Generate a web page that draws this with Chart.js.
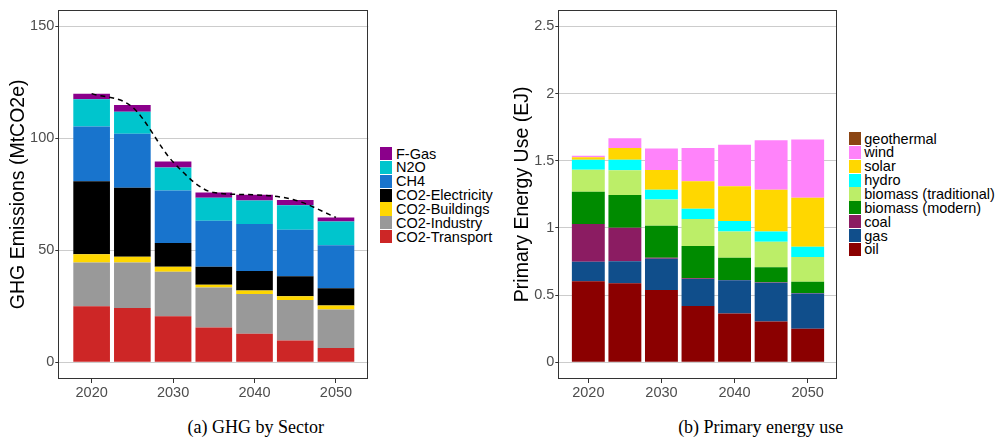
<!DOCTYPE html>
<html>
<head>
<meta charset="utf-8">
<script src="https://cdn.jsdelivr.net/npm/chart.js@4.4.1/dist/chart.umd.min.js"></script>
<style>
  html, body { margin: 0; padding: 0; background: #fff; }
  #wrap { position: relative; width: 1003px; height: 439px; overflow: hidden; background: #fff; }
  canvas { position: absolute; }
  .legend { position: absolute; font-family: "Liberation Sans", Arial, sans-serif; font-size: 14.5px; color: #000; }
  .legend .row { position: relative; height: 13.85px; white-space: nowrap; }
  .legend .sw { position: absolute; left: 0; top: 0.4px; width: 11.7px; height: 13.1px; }
  .legend .tx { position: absolute; top: 50%; transform: translateY(-50%); line-height: 1; }
  .caption { position: absolute; font-family: "Liberation Serif", "Times New Roman", serif; font-size: 18px;
             white-space: nowrap; transform: translate(-50%, -50%); color: #000; }
</style>
</head>
<body>
<div id="wrap">
  <canvas id="ghgChart" width="376" height="400" style="left:0px;top:0px;"></canvas>
  <canvas id="energyChart" width="345" height="400" style="left:500px;top:0px;"></canvas>
  <div id="ghgLegend" class="legend" style="left:380px;top:146.7px;"></div>
  <div id="energyLegend" class="legend" style="left:849px;top:131.7px;"></div>
  <div class="caption" style="left:255.8px;top:426.7px;">(a) GHG by Sector</div>
  <div class="caption" style="left:760.7px;top:426.7px;">(b) Primary energy use</div>
</div>
<script>
// ---- data ---------------------------------------------------------------
const years = [2020, 2025, 2030, 2035, 2040, 2045, 2050];
const yearTicks = [2020, 2030, 2040, 2050];
const ghgTicks = [0, 50, 100, 150];
const energyTicks = [0, 0.5, 1, 1.5, 2, 2.5];

// GHG emissions by sector (MtCO2e), listed from the bottom of the stack up
const co2Transport   = [25.0, 24.2, 20.5, 15.5, 12.7, 9.7, 6.3];
const co2Industry    = [19.6, 20.4, 19.9, 17.9, 17.8, 18.1, 17.3];
const co2Buildings   = [3.6, 2.5, 2.3, 1.2, 1.5, 1.7, 1.7];
const co2Electricity = [32.7, 30.8, 10.6, 8.0, 8.8, 8.9, 7.7];
const ch4            = [24.4, 24.2, 23.4, 20.6, 20.9, 20.8, 19.3];
const n2o            = [12.2, 9.8, 10.3, 10.3, 10.5, 10.9, 10.6];
const fGas           = [2.5, 3.0, 2.7, 2.3, 2.6, 2.4, 1.8];
// emissions pathway (dashed line)
const ghgPathway     = [120.0, 114.0, 89.5, 75.8, 74.8, 72.4, 64.7];

// Primary energy use (EJ), listed from the bottom of the stack up
const oil        = [0.603, 0.588, 0.537, 0.419, 0.363, 0.304, 0.250];
const gas        = [0.145, 0.164, 0.233, 0.201, 0.247, 0.287, 0.262];
const coal       = [0.281, 0.250, 0.007, 0.005, 0.003, 0.005, 0.003];
const bioModern  = [0.241, 0.243, 0.240, 0.240, 0.164, 0.112, 0.085];
const bioTrad    = [0.164, 0.184, 0.194, 0.201, 0.196, 0.189, 0.184];
const hydro      = [0.073, 0.078, 0.073, 0.076, 0.078, 0.076, 0.076];
const solar      = [0.020, 0.089, 0.147, 0.206, 0.260, 0.311, 0.365];
const wind       = [0.010, 0.071, 0.160, 0.248, 0.309, 0.368, 0.434];
const geothermal = [0, 0, 0, 0, 0, 0, 0];

const ghgSeries = [
  { name: 'CO2-Transport',   values: co2Transport,   color: '#CD2626' },
  { name: 'CO2-Industry',    values: co2Industry,    color: '#999999' },
  { name: 'CO2-Buildings',   values: co2Buildings,   color: '#FFD700' },
  { name: 'CO2-Electricity', values: co2Electricity, color: '#000000' },
  { name: 'CH4',             values: ch4,            color: '#1874CD' },
  { name: 'N2O',             values: n2o,            color: '#00C5CD' },
  { name: 'F-Gas',           values: fGas,           color: '#8B008B' }
];

const energySeries = [
  { name: 'oil',                   values: oil,        color: '#8B0000' },
  { name: 'gas',                   values: gas,        color: '#104E8B' },
  { name: 'coal',                  values: coal,       color: '#8B1C62' },
  { name: 'biomass (modern)',      values: bioModern,  color: '#008B00' },
  { name: 'biomass (traditional)', values: bioTrad,    color: '#BCEE68' },
  { name: 'hydro',                 values: hydro,      color: '#00FFFF' },
  { name: 'solar',                 values: solar,      color: '#FFD700' },
  { name: 'wind',                  values: wind,       color: '#FF83FA' },
  { name: 'geothermal',            values: geothermal, color: '#8B4513' }
];

// ---- shared drawing helpers ---------------------------------------------
const SANS = '"Liberation Sans", Arial, sans-serif';
const TICK_GREY = '#4D4D4D';

const panelBorder = {
  id: 'panelBorder',
  afterDraw(chart) {
    const { ctx, chartArea: a } = chart;
    ctx.save();
    ctx.strokeStyle = '#333333';
    ctx.lineWidth = 1;
    const l = Math.round(a.left) - 0.5, t = Math.round(a.top) + 0.5;
    const r = Math.round(a.right) - 0.5, b = Math.round(a.bottom) - 0.5;
    ctx.strokeRect(l, t, r - l, b - t);
    ctx.restore();
  }
};

function points(values) {
  return values.map((v, i) => ({ x: years[i], y: v }));
}

function buildChart(canvasId, series, extraDatasets, yCfg) {
  const datasets = extraDatasets.concat(series.map(s => ({
    type: 'bar',
    label: s.name,
    data: points(s.values),
    backgroundColor: s.color,
    borderWidth: 0,
    barPercentage: 0.9,
    categoryPercentage: 1.0,
    stack: 'sectors',
    order: 1
  })));

  return new Chart(document.getElementById(canvasId), {
    type: 'bar',
    data: { datasets },
    options: {
      responsive: false,
      animation: false,
      events: [],
      layout: { padding: { left: 0, top: 5.7, right: yCfg.padRight, bottom: 0 } },
      plugins: { legend: { display: false }, tooltip: { enabled: false } },
      scales: {
        x: {
          type: 'linear',
          stacked: true,
          offset: false,
          min: 2016.03,
          max: 2053.97,
          afterBuildTicks: s => { s.ticks = yearTicks.map(v => ({ value: v })); },
          afterFit: s => { s.height = 21; },
          grid: { drawOnChartArea: false, offset: false, tickLength: 4, tickColor: '#333333', lineWidth: 1 },
          border: { display: false },
          ticks: {
            autoSkip: false, maxRotation: 0, padding: 1,
            color: TICK_GREY, font: { family: SANS, size: 14.5 },
            callback: v => String(v)
          }
        },
        y: {
          type: 'linear',
          stacked: true,
          min: yCfg.min,
          max: yCfg.max,
          afterBuildTicks: s => { s.ticks = yCfg.ticks.map(v => ({ value: v })); },
          afterFit: s => { s.width = 59.3; },
          grid: { color: '#CCCCCC', lineWidth: 1, tickLength: 4, tickColor: '#333333' },
          border: { display: false },
          ticks: {
            padding: 1,
            color: TICK_GREY, font: { family: SANS, size: 14.5 },
            callback: v => String(v)
          },
          title: {
            display: true,
            text: yCfg.title,
            color: '#000000',
            font: { family: SANS, size: 19.5 },
            padding: { top: yCfg.titlePad, bottom: 0 }
          }
        }
      }
    },
    plugins: [panelBorder]
  });
}

function buildLegend(elId, series) {
  const el = document.getElementById(elId);
  series.slice().reverse().forEach(s => {
    const row = document.createElement('div');
    row.className = 'row';
    const sw = document.createElement('div');
    sw.className = 'sw';
    sw.style.background = s.color;
    const tx = document.createElement('span');
    tx.className = 'tx';
    tx.style.left = (elId === 'ghgLegend' ? 16 : 15.3) + 'px';
    tx.textContent = s.name;
    row.appendChild(sw);
    row.appendChild(tx);
    el.appendChild(row);
  });
}

// ---- panel (a): GHG by sector ---------------------------------------------
buildChart('ghgChart', ghgSeries, [{
  type: 'line',
  label: 'pathway',
  data: points(ghgPathway),
  borderColor: '#000000',
  borderWidth: 1.5,
  borderDash: [5, 4],
  pointRadius: 0,
  fill: false,
  cubicInterpolationMode: 'monotone',
  stack: 'pathway',
  order: 0
}], {
  min: -7.5, max: 157.5, ticks: ghgTicks,
  title: 'GHG Emissions (MtCO2e)', titlePad: 7, padRight: 7.7
});

// ---- panel (b): primary energy use ----------------------------------------
buildChart('energyChart', energySeries, [], {
  min: -0.125, max: 2.625, ticks: energyTicks,
  title: 'Primary Energy Use (EJ)', titlePad: 11.4, padRight: 8.3
});

buildLegend('ghgLegend', ghgSeries);
buildLegend('energyLegend', energySeries);
</script>
</body>
</html>
